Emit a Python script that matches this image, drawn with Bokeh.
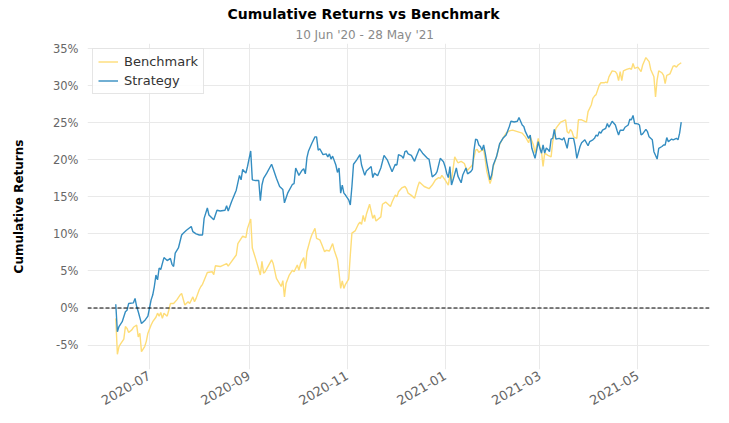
import pandas as pd
from math import pi
from bokeh.plotting import figure
from bokeh.models import (Range1d, Span, Title, FixedTicker, PrintfTickFormatter,
                          MonthsTicker, DatetimeTickFormatter)
from bokeh.embed import file_html
from bokeh.resources import INLINE

# days since 10 Jun 2020 and cumulative return in %
start = pd.Timestamp("2020-06-10")
end = pd.Timestamp("2021-05-28")

strat_days = [
    0, 1, 2, 4, 6, 7, 8, 11, 12, 13,
    14, 16, 18, 20, 21, 22, 23, 24, 25, 26,
    27, 28, 30, 31, 32, 34, 35, 36, 37, 39,
    41, 42, 44, 47, 48, 50, 52, 54, 55, 57,
    58, 61, 63, 65, 68, 69, 70, 72, 75, 77,
    78, 79, 81, 82, 84, 85, 87, 89, 90, 91,
    92, 94, 97, 98, 100, 102, 104, 105, 107, 110,
    111, 112, 114, 116, 117, 118, 119, 120, 122, 124,
    125, 126, 127, 129, 131, 132, 133, 134, 135, 137,
    138, 139, 140, 141, 142, 143, 145, 146, 147, 148,
    150, 152, 153, 155, 156, 158, 159, 160, 161, 163,
    165, 167, 168, 169, 172, 174, 175, 176, 178, 179,
    180, 181, 182, 184, 186, 187, 189, 191, 194, 195,
    197, 199, 200, 202, 204, 205, 206, 207, 208, 209,
    210, 212, 213, 215, 216, 218, 219, 221, 222, 223,
    224, 225, 226, 227, 228, 229, 230, 231, 233, 234,
    235, 237, 239, 241, 243, 245, 246, 248, 250, 251,
    253, 254, 255, 257, 258, 259, 261, 262, 263, 264,
    265, 266, 267, 268, 269, 270, 271, 272, 273, 274,
    276, 278, 279, 281, 282, 284, 285, 286, 287, 289,
    290, 292, 294, 295, 297, 298, 299, 300, 301, 302,
    303, 305, 306, 307, 309, 311, 312, 313, 314, 316,
    317, 319, 320, 321, 322, 323, 325, 326, 327, 328,
    330, 331, 332, 334, 335, 337, 338, 340, 341, 342,
    343, 344, 346, 347, 349, 350, 351, 352]
strat_ret = [
    0.5, -3.2, -2.5, -1.85, -0.5, -0.3, 0.6, 0.7, 1.3, 0.2,
    -0.5, -2.1, -1.7, -1.1, 0.0, 1.1, 1.75, 2.9, 4.45, 3.8,
    5.4, 5.2, 6.8, 6.6, 6.4, 6.7, 5.9, 5.6, 7.4, 8.1,
    9.85, 10.1, 10.5, 11.0, 10.3, 10.0, 9.85, 9.85, 12.1, 13.5,
    12.55, 11.9, 13.2, 13.1, 13.2, 13.8, 13.1, 14.3, 15.9, 17.9,
    17.3, 18.7, 18.2, 19.1, 21.2, 17.3, 17.2, 17.2, 14.5, 16.6,
    17.5, 18.2, 19.4, 18.8, 17.5, 16.4, 16.0, 14.2, 15.5, 16.7,
    16.8, 18.9, 17.9, 18.6, 18.8, 18.1, 20.3, 21.2, 22.2, 23.1,
    23.1, 21.3, 21.5, 20.7, 20.8, 20.4, 20.8, 20.1, 20.5, 19.3,
    18.3, 18.9, 15.5, 16.6, 15.5, 15.25, 14.6, 13.9, 16.4, 19.4,
    20.0, 20.7, 19.3, 17.9, 18.5, 18.9, 19.1, 17.6, 18.2, 17.85,
    18.9, 20.6, 20.3, 20.0, 18.4, 19.4, 19.3, 20.7, 20.5, 20.2,
    21.1, 21.2, 20.8, 20.6, 19.8, 20.4, 21.5, 20.9, 20.2, 20.1,
    17.7, 18.05, 18.4, 20.2, 19.75, 19.1, 18.2, 17.6, 19.1, 16.6,
    17.3, 18.9, 17.8, 16.9, 17.95, 18.9, 18.1, 18.4, 18.7, 21.3,
    22.8, 22.7, 22.0, 21.8, 21.3, 22.0, 20.9, 19.6, 17.3, 17.95,
    19.3, 20.4, 22.2, 22.9, 23.35, 24.5, 25.2, 25.1, 25.2, 25.7,
    24.7, 24.5, 23.8, 22.9, 23.35, 21.55, 20.2, 21.3, 22.45, 21.55,
    20.9, 22.0, 20.9, 21.6, 21.4, 21.1, 22.8, 22.9, 24.1, 22.8,
    22.9, 22.7, 23.0, 21.55, 22.9, 22.9, 22.9, 21.8, 20.2, 21.8,
    22.3, 22.7, 21.9, 22.45, 22.7, 22.9, 23.35, 23.2, 23.8, 23.6,
    24.0, 24.25, 24.9, 24.4, 25.2, 24.7, 24.0, 23.35, 24.0, 24.0,
    24.4, 24.7, 25.5, 25.4, 26.0, 24.9, 24.85, 24.7, 23.35, 23.5,
    24.1, 23.8, 23.1, 22.7, 21.1, 20.1, 21.55, 21.8, 22.0, 22.0,
    23.0, 22.45, 22.8, 22.7, 22.9, 22.7, 23.6, 25.1]

bench_days = [
    0, 1, 2, 3, 5, 6, 7, 8, 10, 11,
    13, 14, 15, 16, 18, 19, 20, 22, 23, 25,
    26, 27, 28, 29, 30, 31, 32, 33, 34, 36,
    38, 40, 41, 43, 45, 46, 48, 49, 50, 52,
    53, 54, 57, 60, 61, 62, 65, 69, 70, 75,
    76, 79, 81, 82, 84, 85, 87, 90, 91, 92,
    93, 97, 98, 100, 103, 104, 105, 106, 108, 110,
    111, 113, 114, 115, 117, 118, 119, 121, 122, 124,
    125, 127, 128, 130, 131, 133, 135, 136, 138, 139,
    140, 141, 142, 143, 145, 146, 147, 149, 151, 152,
    153, 154, 155, 156, 158, 160, 161, 162, 165, 166,
    168, 169, 171, 172, 174, 175, 176, 178, 180, 181,
    182, 184, 186, 188, 189, 191, 192, 195, 197, 199,
    201, 202, 203, 205, 207, 208, 209, 211, 212, 213,
    215, 217, 218, 219, 222, 224, 225, 226, 228, 229,
    230, 231, 233, 234, 235, 237, 239, 241, 243, 245,
    247, 250, 253, 255, 257, 258, 260, 261, 263, 264,
    265, 266, 267, 269, 271, 272, 274, 275, 277, 278,
    280, 281, 282, 283, 284, 285, 287, 288, 290, 291,
    293, 294, 296, 297, 298, 299, 301, 302, 304, 305,
    306, 307, 309, 311, 312, 313, 314, 315, 316, 318,
    320, 321, 322, 323, 325, 326, 327, 328, 330, 332,
    333, 335, 336, 337, 338, 340, 341, 342, 343, 345,
    347, 348, 349, 350, 352]
bench_ret = [
    -1.4, -6.25, -5.2, -4.85, -4.2, -2.5, -2.75, -3.3, -2.95, -2.6,
    -2.3, -3.9, -3.4, -5.9, -5.2, -4.5, -3.4, -2.3, -1.85, -1.25,
    -0.7, -1.1, -0.6, -1.4, -0.7, -0.9, -1.1, -0.3, 0.6, 0.6,
    1.1, 1.75, 1.95, 0.4, 0.85, 0.6, 1.5, 0.85, 1.3, 2.5,
    2.9, 3.2, 4.8, 4.9, 4.5, 5.7, 5.6, 6.0, 5.65, 7.15,
    8.7, 9.7, 9.5, 10.75, 12.0, 8.1, 6.7, 4.45, 6.3, 4.7,
    4.9, 6.5, 6.0, 4.0, 2.9, 3.7, 1.5, 3.3, 4.45, 5.1,
    4.9, 5.8, 5.1, 6.0, 6.8, 5.3, 7.6, 9.2, 9.85, 10.75,
    9.4, 9.2, 8.7, 7.6, 7.8, 7.7, 8.7, 7.8, 6.5, 4.7,
    2.65, 3.65, 2.65, 3.2, 3.9, 7.15, 10.1, 10.4, 11.3, 11.6,
    11.3, 12.5, 11.65, 12.65, 14.0, 12.1, 12.55, 11.75, 12.3, 14.0,
    14.3, 14.1, 13.7, 14.3, 15.25, 15.0, 15.7, 16.2, 16.4, 16.1,
    15.5, 15.2, 14.8, 16.4, 17.0, 16.6, 16.4, 16.1, 16.6, 17.3,
    17.6, 17.5, 17.9, 17.3, 16.6, 17.9, 17.2, 20.4, 20.0, 19.6,
    19.8, 19.5, 18.9, 18.6, 19.3, 21.3, 21.4, 21.0, 21.3, 21.4,
    20.0, 18.4, 16.8, 17.5, 19.1, 20.4, 22.1, 22.9, 23.6, 23.9,
    24.0, 23.8, 23.6, 23.1, 22.3, 23.1, 22.0, 20.9, 22.9, 21.8,
    21.1, 19.1, 20.9, 20.6, 20.4, 22.45, 24.25, 24.55, 25.1, 25.2,
    25.4, 23.8, 23.6, 24.1, 23.8, 23.1, 22.9, 25.4, 25.4, 25.3,
    25.1, 26.5, 27.4, 28.3, 28.6, 28.8, 30.1, 30.4, 30.4, 30.5,
    30.4, 31.2, 32.0, 31.9, 31.6, 30.7, 31.9, 30.7, 32.0, 32.2,
    32.35, 32.2, 33.0, 32.35, 32.5, 32.2, 31.9, 32.8, 33.8, 33.25,
    32.2, 31.2, 28.5, 30.8, 32.0, 31.75, 31.4, 30.3, 31.4, 31.6,
    32.65, 32.7, 32.5, 32.8, 33.1]

y_ticks = [-5, 0, 5, 10, 15, 20, 25, 30, 35]

strat_dates = start + pd.to_timedelta(strat_days, unit="D")
bench_dates = start + pd.to_timedelta(bench_days, unit="D")

pad = pd.Timedelta(days=17.6)
p = figure(width=729, height=423, x_axis_type="datetime",
           output_backend="svg", toolbar_location=None, title=None,
           x_range=Range1d(start - pad, end + pad),
           y_range=Range1d(-8.3, 35.7),
           min_border_left=87, min_border_right=20,
           min_border_top=10, min_border_bottom=54)

p.add_layout(Title(text="10 Jun '20 - 28 May '21", align="left",
                   text_font="DejaVu Sans", text_font_size="12px",
                   text_font_style="normal", text_color="#8a8a8a",
                   standoff=3, offset=208), "above")
p.add_layout(Title(text="Cumulative Returns vs Benchmark", align="left",
                   text_font="DejaVu Sans", text_font_size="14px",
                   text_font_style="bold", text_color="black",
                   standoff=6, offset=140), "above")

p.outline_line_color = None
p.xgrid.grid_line_color = "#e9e9e9"
p.ygrid.grid_line_color = "#e9e9e9"

p.line(bench_dates, bench_ret, color="#fedd78", line_width=1.4,
       legend_label="Benchmark")
p.line(strat_dates, strat_ret, color="#348dc1", line_width=1.4,
       legend_label="Strategy")

p.add_layout(Span(location=0, dimension="width", line_color="black",
                  line_dash="4 2", line_width=1))

p.yaxis.ticker = FixedTicker(ticks=y_ticks)
p.yaxis.formatter = PrintfTickFormatter(format="%d%%")
p.xaxis.ticker = MonthsTicker(months=[0, 2, 4, 6, 8, 10])
p.xaxis.formatter = DatetimeTickFormatter(months="%Y-%m", days="%Y-%m")
p.xaxis.major_label_orientation = pi / 6

for ax in (p.xaxis, p.yaxis):
    ax.axis_line_color = None
    ax.major_tick_line_color = None
    ax.minor_tick_line_color = None
    ax.major_tick_out = 0
    ax.major_tick_in = 0
    ax.minor_tick_out = 0
    ax.major_label_text_font = "DejaVu Sans"
    ax.major_label_text_color = "#666666"
p.yaxis.major_label_text_font_size = "11.5px"
p.xaxis.major_label_text_font_size = "13px"
p.yaxis.major_label_standoff = 9
p.xaxis.major_label_standoff = 5

p.yaxis.axis_label = "Cumulative Returns"
p.yaxis.axis_label_text_font = "DejaVu Sans"
p.yaxis.axis_label_text_font_size = "12px"
p.yaxis.axis_label_text_font_style = "bold"
p.yaxis.axis_label_text_color = "black"
p.yaxis.axis_label_standoff = 24

p.legend.location = "top_left"
p.legend.margin = 5
p.legend.padding = 5
p.legend.spacing = 4
p.legend.glyph_width = 20
p.legend.glyph_height = 15
p.legend.label_height = 15
p.legend.label_standoff = 6
p.legend.label_text_font = "DejaVu Sans"
p.legend.label_text_font_size = "13px"
p.legend.label_text_color = "#333333"
p.legend.border_line_color = "#cccccc"
p.legend.background_fill_alpha = 0.85

open("out.html", "w").write(file_html(p, INLINE))
